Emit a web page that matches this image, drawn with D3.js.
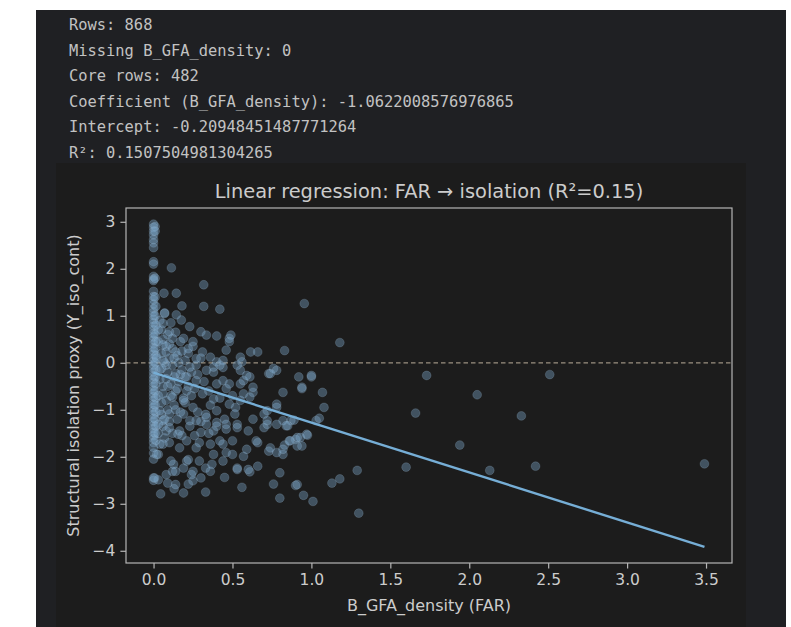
<!DOCTYPE html>
<html>
<head>
<meta charset="utf-8">
<script src="https://cdn.jsdelivr.net/npm/d3@7"></script>
<style>
html,body{margin:0;padding:0;background:#ffffff;}
svg{display:block;}
</style>
</head>
<body>
<svg id="chart" width="791" height="627"></svg>
<script>
// ---- printed output ----
const outputLines = [
  "Rows: 868",
  "Missing B_GFA_density: 0",
  "Core rows: 482",
  "Coefficient (B_GFA_density): -1.0622008576976865",
  "Intercept: -0.20948451487771264",
  "R\u00b2: 0.1507504981304265"
];
const chartTitle = "Linear regression: FAR \u2192 isolation (R\u00b2=0.15)";
const xLabel = "B_GFA_density (FAR)";
const yLabel = "Structural isolation proxy (Y_iso_cont)";
const xTicks = [0, 0.5, 1, 1.5, 2, 2.5, 3, 3.5];
const yTicks = [-4, -3, -2, -1, 0, 1, 2, 3];
const coefficient = -1.0622008576976865;
const intercept = -0.20948451487771264;

// ---- points (FAR, isolation) ----
const columnPoints = [
 [0,2.95],[0,2.88],[0,2.80],[0,2.72],[0,2.62],[0,2.55],[0,2.45],[0,2.15],[0,2.10],[0,1.84],[0,1.78],[0,1.75],
 [0,1.52],[0,1.41],[0,1.34],[0,1.25],[0,1.15],[0,1.08],[0,1.00],[0,0.92],[0,0.85],[0,0.78],[0,0.70],[0,0.62],
 [0,0.55],[0,0.48],[0,0.40],[0,0.32],[0,0.25],[0,0.18],[0,0.10],[0,0.03],[0,-0.05],[0,-0.12],[0,-0.20],[0,-0.28],
 [0,-0.35],[0,-0.42],[0,-0.50],[0,-0.58],[0,-0.65],[0,-0.72],[0,-0.80],[0,-0.88],[0,-0.95],[0,-1.02],[0,-1.10],
 [0,-1.18],[0,-1.25],[0,-1.33],[0,-1.40],[0,-1.48],[0,-1.55],[0,-1.62],[0,-1.70],[0,-1.80],[0,-1.92],[0,-2.05],
 [0,-2.45],[0,-2.50],
 [0.01,2.90],[0.01,2.80],[0.01,1.80],[0.01,1.40],[0.015,1.20],[0.01,1.00],[0.015,0.80],[0.01,0.60],[0.015,0.45],
 [0.01,0.30],[0.015,0.15],[0.01,0.00],[0.015,-0.15],[0.01,-0.30],[0.015,-0.45],[0.01,-0.60],[0.015,-0.75],
 [0.01,-0.90],[0.015,-1.05],[0.01,-1.20],[0.015,-1.35],[0.01,-1.50],[0.015,-1.65]
];
const clusterPoints = [
 [0.04,0.9],[0.05,0.7],[0.06,0.5],[0.08,0.35],[0.1,0.1],[0.12,-0.05],[0.05,0.2],[0.07,0.0],[0.09,-0.2],
 [0.04,-0.35],[0.06,-0.5],[0.11,-0.45],[0.14,-0.6],[0.16,-0.4],[0.18,-0.15],[0.2,0.05],[0.22,-0.5],[0.24,-0.7],
 [0.13,-0.9],[0.08,-0.8],[0.05,-1.1],[0.1,-1.25],[0.15,-1.2],[0.2,-0.85],[0.26,-0.55],[0.28,-0.25],[0.3,0.1],
 [0.32,-0.4],[0.35,-0.6],[0.36,-0.9],[0.33,-1.1],[0.28,-1.05],[0.23,-1.35],[0.18,-1.55],[0.12,-1.5],[0.07,-1.6],
 [0.03,-0.7],[0.03,0.45],[0.09,0.6],[0.12,0.3],[0.15,0.15],[0.17,0.45],[0.19,-0.75],[0.25,0.35],[0.27,-0.05],
 [0.22,0.2],[0.38,-0.2],[0.4,-0.45],[0.42,-0.75],[0.44,-0.1],[0.46,-0.55],[0.5,-0.7],[0.52,-0.95],[0.45,-1.2],
 [0.4,-1.35],[0.35,-1.5],[0.3,-1.25],[0.26,-1.55],[0.14,0.65],[0.11,0.85],[0.07,1.05],[0.16,0.0],[0.2,-0.3],
 [0.06,-1.35],[0.09,-1.0],[0.04,-0.15],[0.02,0.1],[0.13,-0.3],[0.17,-1.05],
 [0.03,0.7],[0.05,-0.85],[0.08,-0.05],[0.1,0.4],[0.13,0.1],[0.15,-0.55],[0.18,0.25],[0.21,-0.6],[0.24,-0.2],
 [0.06,0.05],[0.09,-0.5],[0.11,-0.7],[0.14,-1.0],[0.17,-0.25],[0.03,-1.5],[0.07,-1.2]
];
const scatterPoints = [
 [0.113,2.02],[0.318,1.66],[0.066,1.48],[0.144,1.48],[0.318,1.20],[0.42,1.14],[0.18,1.21],[0.955,1.26],
 [0.07,1.06],[0.144,1.02],[0.176,0.91],[0.229,0.77],[0.30,0.66],[0.335,0.59],[0.40,0.57],[0.48,0.52],
 [0.49,0.59],[0.10,0.66],[0.06,0.84],[0.12,0.52],[0.19,0.52],[0.25,0.45],[0.46,0.27],[0.55,0.12],
 [0.615,0.23],[0.66,0.23],[0.83,0.26],[0.06,0.38],[0.08,0.23],[0.14,0.23],[0.22,0.30],[0.31,0.23],
 [0.36,0.12],[0.27,0.09],[0.40,0.02],[0.76,-0.12],[0.55,-0.16],[1.18,0.43],[0.48,0.45],[0.73,-0.23],
 [0.78,-0.16],[0.82,-0.63],[0.92,-0.30],[1.00,-0.30],[1.07,-0.63],[1.08,-0.95],[0.94,-0.52],[0.61,-0.30],
 [0.63,-0.63],[0.55,-0.45],[0.57,-0.66],[0.44,-0.38],[0.38,-0.09],[0.44,0.05],[0.56,0.02],[1.03,-1.23],
 [0.97,-1.52],[0.87,-1.23],[0.72,-1.02],[0.70,-1.38],
 [1.73,-0.27],[0.85,-1.34],[0.89,-1.22],[0.975,-1.54],[0.90,-1.63],[0.94,-1.77],[0.83,-1.75],[0.82,-1.95],
 [1.94,-1.75],[1.60,-2.22],[1.29,-2.29],[1.18,-2.47],[1.13,-2.56],[0.90,-2.61],[0.95,-2.82],[1.01,-2.95],
 [0.80,-2.88],[1.30,-3.20],[0.80,-2.34],[1.05,-1.18],[2.05,-0.68],[1.66,-1.07],
 [2.51,-0.25],[2.33,-1.13],[2.13,-2.29],[2.42,-2.20],[3.49,-2.15],
 [0.76,-2.58],[0.56,-2.65],[0.45,-2.44],[0.53,-2.27],[0.61,-2.32],[0.66,-2.20],[0.33,-2.75],[0.19,-2.77],
 [0.045,-2.79],[0.03,-2.49],[0.13,-2.68],[0.09,-2.56],[0.08,-2.38],[0.14,-2.31],[0.22,-2.58],[0.25,-2.51],
 [0.25,-2.31],[0.30,-2.45],[0.33,-2.24],[0.37,-2.16],[0.127,-2.16],[0.03,-1.95],[0.21,-2.09],[0.44,-2.09],
 [0.50,-1.95],[0.57,-1.99],[0.59,-1.84],[0.66,-1.70],[0.60,-1.45],[0.73,-1.88],[0.78,-1.91],[0.82,-1.84],
 [0.91,-1.77],[0.93,-1.59],[0.86,-1.66],[0.78,-0.95],[0.82,-1.23],[0.72,-1.31],[0.515,-1.09],[0.53,-1.31],
 [0.46,-1.41],[0.42,-1.66],[0.29,-1.70],[0.27,-1.81],[0.21,-1.66],[0.155,-1.52],[0.10,-1.70],[0.04,-1.73],
 [0.08,-1.45],[0.06,-1.23],[0.23,-1.23],[0.335,-1.16],[0.38,-1.45],[0.30,-1.48],[0.63,-1.20],[0.70,-1.09],
 [0.48,-0.45],[0.57,-0.38],[0.63,-0.52],[0.74,-0.23],[0.94,-0.55],[1.00,-0.27],[0.78,-0.88],[0.61,-0.73],
 [0.55,-0.80],[0.48,-0.88],[0.40,-1.02],[0.38,-0.77],[0.31,-0.66],[0.27,-0.38],[0.21,-0.30],[0.14,-0.23],
 [0.08,-0.34],[0.05,-0.12],[0.23,-0.09],[0.335,-0.16],[0.42,-0.05],[0.53,-0.05],[0.59,-0.27],[0.06,-0.66],
 [0.12,-0.73],[0.19,-0.80],[0.25,-0.95],[0.19,-1.09],[0.10,-1.09],[0.04,-1.02],[0.03,-1.31],[0.10,-1.38],
 [0.165,-1.45],[0.27,-1.23],[0.335,-1.31],[0.40,-1.27],[0.46,-1.31],[0.53,-1.38],[0.72,-1.23],[0.78,-1.31],
 [0.84,-1.34],[0.91,-1.59],[0.865,-1.66],[0.74,-1.81],[0.65,-1.66],[0.50,-1.66],[0.44,-1.73],[0.36,-1.73],
 [0.165,-1.81],[0.06,-1.73],[0.02,-1.95],[0.11,-2.09],[0.22,-2.06],[0.29,-2.09],[0.38,-1.95],[0.46,-1.91],
 [0.53,-2.24],[0.60,-2.27],[0.91,-2.59],[0.006,-2.45],[0.14,-2.59],[0.24,-2.38],[0.36,-2.31],[0.12,-2.31],
 [0.19,-2.24]
];

const allPoints = columnPoints.concat(clusterPoints, scatterPoints);

// ---- drawing ----
const svg = d3.select("#chart");
svg.append("rect").attr("x",36).attr("y",10).attr("width",750).attr("height",617).attr("fill","#1f2023");
svg.append("rect").attr("x",56).attr("y",163).attr("width",690).attr("height",464).attr("fill","#1c1c1c");

const textColor = "#cccccc";
svg.append("g").selectAll("text").data(outputLines).join("text")
  .attr("x",69).attr("y",(d,i)=>30 + i*25.5)
  .attr("fill","#c2c2c2")
  .style("font-family","'DejaVu Sans Mono', monospace").style("font-size","15.4px")
  .text(d=>d);

const plotL=126, plotR=732, plotT=208, plotB=563;
const xMin = d3.min(allPoints,d=>d[0]), xMax = d3.max(allPoints,d=>d[0]);
const lineY = [intercept + coefficient*xMin, intercept + coefficient*xMax];
const yMin = Math.min(d3.min(allPoints,d=>d[1]), d3.min(lineY));
const yMax = Math.max(d3.max(allPoints,d=>d[1]), d3.max(lineY));
const xPad = (xMax-xMin)*0.05, yPad = (yMax-yMin)*0.05;
const x = d3.scaleLinear().domain([xMin-xPad, xMax+xPad]).range([plotL,plotR]);
const y = d3.scaleLinear().domain([yMin-yPad, yMax+yPad]).range([plotB,plotT]);

// zero reference line
svg.append("line").attr("x1",plotL).attr("x2",plotR).attr("y1",y(0)).attr("y2",y(0))
  .attr("stroke","#9a9080").attr("stroke-width",1.2).attr("stroke-dasharray","4.5,3");

// points
svg.append("g").selectAll("circle").data(allPoints).join("circle")
  .attr("cx",d=>x(d[0])).attr("cy",d=>y(d[1])).attr("r",4.4)
  .attr("fill","#7aa6c8").attr("fill-opacity",0.4)
  .attr("stroke","#a4c4dc").attr("stroke-opacity",0.25).attr("stroke-width",0.8);

// regression line
svg.append("line").attr("x1",x(xMin)).attr("x2",x(xMax)).attr("y1",y(lineY[0])).attr("y2",y(lineY[1]))
  .attr("stroke","#76aed6").attr("stroke-width",2.4);

// axes
const minus = s => s.replace("-","\u2212");
const xAxis = svg.append("g").attr("transform",`translate(0,${plotB})`)
  .call(d3.axisBottom(x).tickValues(xTicks).tickFormat(d=>minus(d3.format(".1f")(d))).tickSize(5.6).tickPadding(5));
const yAxis = svg.append("g").attr("transform",`translate(${plotL},0)`)
  .call(d3.axisLeft(y).tickValues(yTicks).tickFormat(d=>minus(String(d))).tickSize(5.6).tickPadding(5));
[xAxis,yAxis].forEach(g=>{
  g.select(".domain").remove();
  g.selectAll(".tick line").attr("stroke","#b5b5b5").attr("stroke-width",1.2);
  g.selectAll(".tick text").attr("fill",textColor).style("font-family","'DejaVu Sans', sans-serif").style("font-size","15.5px");
});
svg.append("rect").attr("x",plotL).attr("y",plotT).attr("width",plotR-plotL).attr("height",plotB-plotT)
  .attr("fill","none").attr("stroke","#b5b5b5").attr("stroke-width",1.2);

// titles
svg.append("text").attr("x",(plotL+plotR)/2).attr("y",198).attr("text-anchor","middle")
  .attr("fill",textColor).style("font-family","'DejaVu Sans', sans-serif").style("font-size","19.4px").text(chartTitle);
svg.append("text").attr("x",(plotL+plotR)/2).attr("y",611).attr("text-anchor","middle")
  .attr("fill",textColor).style("font-family","'DejaVu Sans', sans-serif").style("font-size","16px").text(xLabel);
svg.append("text").attr("transform",`translate(79,${(plotT+plotB)/2}) rotate(-90)`).attr("text-anchor","middle")
  .attr("fill",textColor).style("font-family","'DejaVu Sans', sans-serif").style("font-size","16px").text(yLabel);
</script>
</body>
</html>
